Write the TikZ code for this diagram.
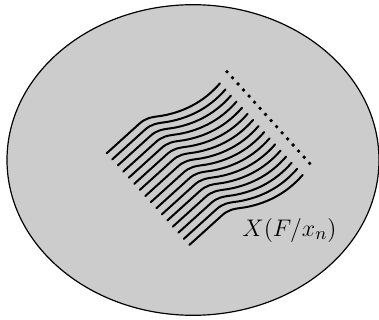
\documentclass[tikz,border=0pt]{standalone}
\begin{document}
\begin{tikzpicture}[x=0.5pt,y=-0.5pt,
  leaf/.style={line width=1pt,line cap=round},
  blob/.style={draw=black,line width=0.6pt,fill=black!20}]
\useasboundingbox (0,0) rectangle (379,320);
\draw[blob] (193,160) ellipse [x radius=186, y radius=155.3];
\foreach \i in {0,...,15}{
  \begin{scope}[shift={(106.7+5.51*\i,153.3+6.11*\i)}]
    \draw[leaf] (0,0) -- (32,-29) .. controls (39,-35.5) and (44,-36) .. (55,-37.5)
      .. controls (75,-41) and (96,-50) .. (113.3,-70);
    \fill (120.3,-81.6) circle[radius=1.9];
  \end{scope}
}
\node[font=\fontsize{12.8}{15}\selectfont] (lbl) at (289.5,230) {$X(F/x_n)$};
\end{tikzpicture}
\end{document}
